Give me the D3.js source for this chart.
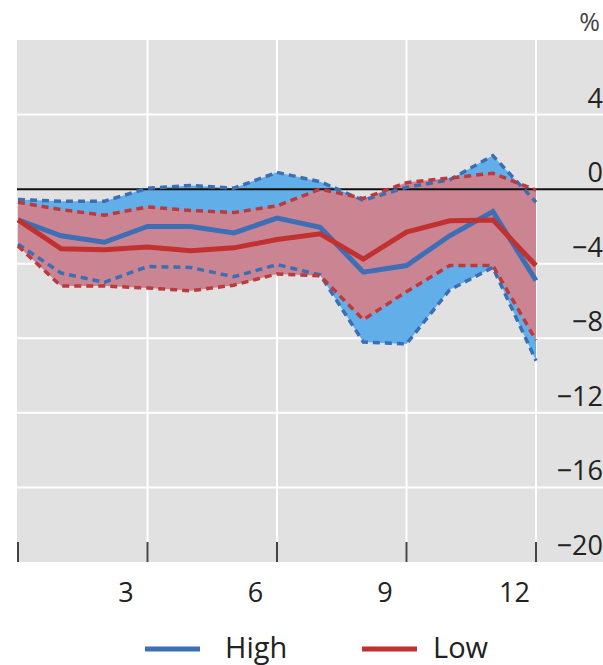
<!DOCTYPE html>
<html>
<head>
<meta charset="utf-8">
<script src="https://cdn.jsdelivr.net/npm/d3@7"></script>
<style>
  body { margin: 0; background: #fff; }
  svg { display: block; font-family: 'Open Sans', 'Noto Sans', sans-serif; }
</style>
</head>
<body>
<div id="chart"></div>
<script>
// x positions 0..12, labels sit in the middle of every third interval
const steps = d3.range(0, 13)
const xTickLabels = ['3', '6', '9', '12']
const xTickSteps = [3, 6, 9, 12]
const yTicks = [4, 0, -4, -8, -12, -16, -20]

// High scenario
const highMid = [-1.65, -2.5, -2.85, -2.0, -2.0, -2.35, -1.55, -2.05, -4.45, -4.1, -2.5, -1.2, -4.9]
const highUp = [-0.55, -0.65, -0.65, 0.05, 0.2, 0.05, 0.9, 0.4, -0.6, 0.1, 0.5, 1.8, -0.7]
const highLo = [-2.95, -4.5, -5.0, -4.15, -4.2, -4.7, -4.05, -4.6, -8.2, -8.3, -5.4, -4.2, -9.2]

// Low scenario
const lowMid = [-1.65, -3.2, -3.25, -3.1, -3.3, -3.15, -2.7, -2.4, -3.75, -2.3, -1.7, -1.65, -4.1]
const lowUp = [-0.7, -1.1, -1.4, -0.95, -1.15, -1.25, -0.9, 0.0, -0.5, 0.35, 0.6, 0.85, -0.05]
const lowLo = [-3.05, -5.2, -5.2, -5.3, -5.45, -5.15, -4.55, -4.65, -7.0, -5.5, -4.1, -4.1, -8.1]

const width = 603
const height = 665
const plot = { left: 17, top: 40, bottom: 562 }

const x = d3.scaleLinear().domain([0, 12]).range([18, 536])
const y = d3.scaleLinear().domain([-20, 8]).range([plot.bottom, plot.top])

const svg = d3.select('#chart')
  .append('svg')
  .attr('width', width)
  .attr('height', height)

// Grey plot background, it runs off the right edge
svg.append('rect')
  .attr('x', plot.left)
  .attr('y', plot.top)
  .attr('width', width - plot.left)
  .attr('height', plot.bottom - plot.top)
  .attr('fill', '#e1e1e1')

// Horizontal grid lines
svg.append('g')
  .selectAll('line')
  .data(yTicks.filter(d => d !== 0 && d !== -20))
  .join('line')
  .attr('x1', plot.left)
  .attr('x2', width)
  .attr('y1', d => y(d))
  .attr('y2', d => y(d))
  .attr('stroke', '#fff')
  .attr('stroke-width', 2)

// Vertical grid lines
svg.append('g')
  .selectAll('line')
  .data(xTickSteps)
  .join('line')
  .attr('x1', d => x(d))
  .attr('x2', d => x(d))
  .attr('y1', plot.top)
  .attr('y2', plot.bottom)
  .attr('stroke', '#fff')
  .attr('stroke-width', 2)

const rows = steps.map((s, i) => ({
  s,
  highMid: highMid[i], highUp: highUp[i], highLo: highLo[i],
  lowMid: lowMid[i], lowUp: lowUp[i], lowLo: lowLo[i]
}))

const band = (lo, up) => d3.area()
  .x(d => x(d.s))
  .y0(d => y(d[lo]))
  .y1(d => y(d[up]))

const line = key => d3.line()
  .x(d => x(d.s))
  .y(d => y(d[key]))

// Bands: high first, low drawn over it
svg.append('path')
  .datum(rows)
  .attr('fill', '#62aee8')
  .attr('d', band('highLo', 'highUp'))

svg.append('path')
  .datum(rows)
  .attr('fill', '#cb8592')
  .attr('d', band('lowLo', 'lowUp'))

// Zero line
svg.append('line')
  .attr('x1', plot.left)
  .attr('x2', width)
  .attr('y1', y(0))
  .attr('y2', y(0))
  .attr('stroke', '#111')
  .attr('stroke-width', 2)

// Dashed band edges
const dashed = [
  ['highUp', '#3b6fb5'], ['highLo', '#3b6fb5'],
  ['lowUp', '#bb3a3e'], ['lowLo', '#bb3a3e']
]
dashed.forEach(([key, colour]) => {
  svg.append('path')
    .datum(rows)
    .attr('fill', 'none')
    .attr('stroke', colour)
    .attr('stroke-width', 3.5)
    .attr('stroke-dasharray', '7,5')
    .attr('d', line(key))
})

// Central paths
svg.append('path')
  .datum(rows)
  .attr('fill', 'none')
  .attr('stroke', '#3d6fb6')
  .attr('stroke-width', 5)
  .attr('d', line('highMid'))

svg.append('path')
  .datum(rows)
  .attr('fill', 'none')
  .attr('stroke', '#c0312f')
  .attr('stroke-width', 5)
  .attr('d', line('lowMid'))

// Bottom tick marks
svg.append('g')
  .selectAll('line')
  .data([0].concat(xTickSteps))
  .join('line')
  .attr('x1', d => x(d))
  .attr('x2', d => x(d))
  .attr('y1', plot.bottom - 20)
  .attr('y2', plot.bottom)
  .attr('stroke', '#444')
  .attr('stroke-width', 2)

// X labels, centred in the interval before each tick
svg.append('g')
  .selectAll('text')
  .data(xTickSteps)
  .join('text')
  .attr('x', d => x(d - 0.5))
  .attr('y', 602)
  .attr('text-anchor', 'middle')
  .attr('font-size', 27)
  .attr('fill', '#222')
  .text((d, i) => xTickLabels[i])

// Y labels on the right, sitting above their grid line
svg.append('g')
  .selectAll('text')
  .data(yTicks)
  .join('text')
  .attr('x', 603)
  .attr('y', d => y(d) - 7)
  .attr('text-anchor', 'end')
  .attr('font-size', 27)
  .attr('fill', '#222')
  .text(d => d < 0 ? '\u2212' + Math.abs(d) : d)

svg.append('text')
  .attr('x', 600)
  .attr('y', y(8) - 9)
  .attr('text-anchor', 'end')
  .attr('font-size', 25)
  .attr('fill', '#444')
  .text('%')

// Legend
const legend = [['High', '#3d6fb6', 145, 225], ['Low', '#c0312f', 362, 433]]
const lg = svg.append('g')
legend.forEach(([name, colour, lx, tx]) => {
  lg.append('line')
    .attr('x1', lx)
    .attr('x2', lx + 55)
    .attr('y1', 649)
    .attr('y2', 649)
    .attr('stroke', colour)
    .attr('stroke-width', 5)
  lg.append('text')
    .attr('x', tx)
    .attr('y', 658)
    .attr('font-size', 29)
    .attr('fill', '#222')
    .text(name)
})
</script>
</body>
</html>
